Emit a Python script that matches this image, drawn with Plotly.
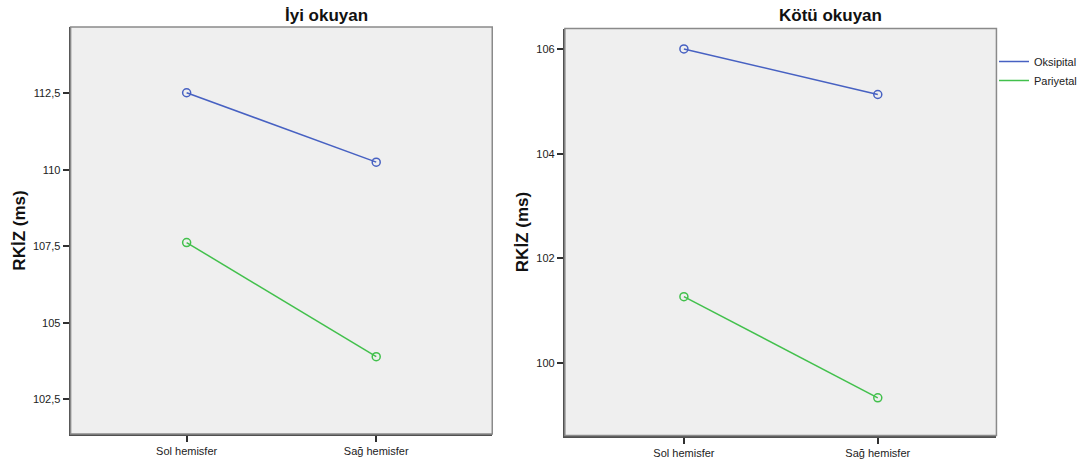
import plotly.graph_objects as go

# ---- data ----
categories = ["Sol hemisfer", "Sağ hemisfer"]
series_names = ["Oksipital", "Pariyetal"]
iyi_oksipital = [112.52, 110.25]
iyi_pariyetal = [107.62, 103.89]
kotu_oksipital = [106.0, 105.13]
kotu_pariyetal = [101.27, 99.34]
panel_titles = ["İyi okuyan", "Kötü okuyan"]
y_title = "RKİZ (ms)"
iyi_ticks = [102.5, 105, 107.5, 110, 112.5]
kotu_ticks = [100, 102, 104, 106]

W, H = 1082, 463
FONT = "Liberation Sans, Arial, sans-serif"
BLUE = "#4761C2"
GREEN = "#42C04C"
BG = "#EFEFEF"

def px_x(p):
    return p / W

def px_y(p):
    return 1 - p / H

fig = go.Figure()

panels = [
    ("x", "y", iyi_oksipital, iyi_pariyetal),
    ("x2", "y2", kotu_oksipital, kotu_pariyetal),
]
for xa, ya, oks, par in panels:
    for vals, col, name in [(oks, BLUE, series_names[0]), (par, GREEN, series_names[1])]:
        fig.add_trace(go.Scatter(
            x=categories, y=vals, xaxis=xa, yaxis=ya, mode="lines+markers",
            line=dict(color=col, width=1.5),
            marker=dict(symbol="circle-open", size=8, color=col, line=dict(width=1.5)),
            name=name, showlegend=False, hoverinfo="x+y+name"))

# legend entries (line only, like the original)
for col, name in [(BLUE, series_names[0]), (GREEN, series_names[1])]:
    fig.add_trace(go.Scatter(x=[None], y=[None], mode="lines", xaxis="x2", yaxis="y2",
                             line=dict(color=col, width=1.5), name=name, showlegend=True))

axis_common = dict(
    showgrid=False, zeroline=False, showline=True, linecolor="#505050", linewidth=2,
    ticks="outside", ticklen=6, tickwidth=1.5, tickcolor="#303030",
    tickfont=dict(family=FONT, size=11, color="#222"),
)

fig.update_layout(
    width=W, height=H, margin=dict(l=0, r=0, t=0, b=0),
    paper_bgcolor="white", plot_bgcolor=BG,
    separators=",.",
    font=dict(family=FONT, color="#222"),
    xaxis=dict(domain=[px_x(71), px_x(495)], anchor="y", type="category",
               range=[-0.612, 1.612], **axis_common),
    yaxis=dict(domain=[px_y(434), px_y(27)], anchor="x", range=[101.36, 114.67],
               tickvals=iyi_ticks,
               title=dict(text="<b>" + y_title + "</b>", font=dict(family=FONT, size=17, color="#111"),
                          standoff=3),
               **axis_common),
    xaxis2=dict(domain=[px_x(568), px_x(1002)], anchor="y2", type="category",
                range=[-0.614, 1.612], **axis_common),
    yaxis2=dict(domain=[px_y(435.5), px_y(28.5)], anchor="x2", range=[98.62, 106.39],
                tickvals=kotu_ticks,
                title=dict(text="<b>" + y_title + "</b>", font=dict(family=FONT, size=17, color="#111"),
                           standoff=3),
                **axis_common),
    legend=dict(x=px_x(1000), y=px_y(47), xanchor="left", yanchor="top",
                font=dict(family=FONT, size=11, color="#222"),
                bgcolor="rgba(0,0,0,0)", itemwidth=30, tracegroupgap=0),
    showlegend=True,
)

# frame around each plot area (top/right border)
for xr, yr in [("x domain", "y domain"), ("x2 domain", "y2 domain")]:
    fig.add_shape(type="rect", xref=xr, yref=yr, x0=0, x1=1, y0=0, y1=1,
                  line=dict(color="#8A8A8A", width=1.5), fillcolor="rgba(0,0,0,0)", layer="above")

# panel titles
for title, cx in zip(panel_titles, [328, 835]):
    fig.add_annotation(text="<b>" + title + "</b>", x=px_x(cx), y=px_y(16), xref="paper", yref="paper",
                       showarrow=False, xanchor="center", yanchor="middle",
                       font=dict(family=FONT, size=17, color="#111"))

fig.write_html("out.html")
